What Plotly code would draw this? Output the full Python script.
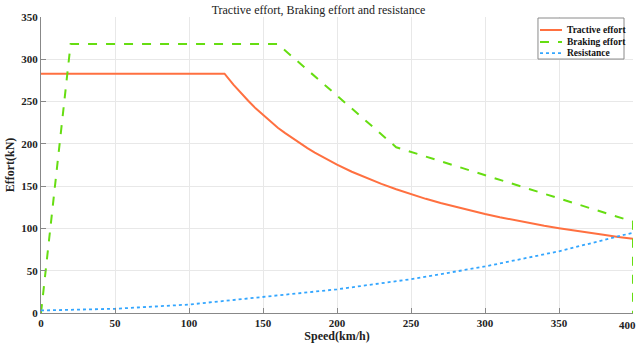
import plotly.graph_objects as go

# Tractive effort (kN) vs speed (km/h)
tr_speed = [0, 124, 130, 135, 140, 145, 150, 155, 160, 165, 170, 175, 180, 185, 190, 200, 210, 220, 230,
            240, 250, 260, 270, 280, 290, 300, 310, 320, 330, 340, 350, 360, 370, 380, 390, 400]
tr_force = [283, 283, 270, 260, 251, 242, 234, 226.5, 219, 212.7, 206.5, 200.6, 195, 189.7, 184.7, 175.5,
            167, 159.5, 152.6, 146.3, 140.4, 135, 130, 125.4, 121, 117, 113.2, 109.7, 106.4, 103.2, 100.3,
            97.5, 94.9, 92.4, 90, 87.8]

# Braking effort
br_speed = [0, 20, 160, 240, 400, 400]
br_force = [0, 318, 318, 196, 108, 0]

# Resistance
rs_speed = [0, 50, 100, 150, 200, 250, 300, 350, 400]
rs_force = [3, 5, 10, 19, 28, 40, 55, 73, 95]

series_names = ["Tractive effort", "Braking effort", "Resistance"]
series_colors = ["#ff7040", "#66dd11", "#33a6ff"]
series_dash = ["solid", "dash", "dot"]

title = "Tractive effort, Braking effort and resistance"
x_title = "Speed(km/h)"
y_title = "Effort(kN)"
x_ticks = [0, 50, 100, 150, 200, 250, 300, 350, 400]
y_ticks = [0, 50, 100, 150, 200, 250, 300, 350]

FONT = "Liberation Serif, Times New Roman, serif"

fig = go.Figure()
data = [(tr_speed, tr_force), (br_speed, br_force), (rs_speed, rs_force)]
for (xs, ys), nm, col, ds in zip(data, series_names, series_colors, series_dash):
    fig.add_trace(go.Scatter(x=xs, y=ys, mode="lines", name=nm, cliponaxis=False,
                             line=dict(color=col, width=2 if ds != "dot" else 1.8, dash=ds)))

# compact legend (box, line samples, labels) in plot-area paper coordinates
lg_x0, lg_x1, lg_y0, lg_y1 = 0.8395, 0.9848, 0.858, 0.9966
row_y = [0.956, 0.9155, 0.878]
fig.add_shape(type="rect", xref="paper", yref="paper", x0=lg_x0, x1=lg_x1, y0=lg_y0, y1=lg_y1,
              line=dict(color="#8a8a8a", width=1), fillcolor="white", layer="above")
for ry, nm, col, ds in zip(row_y, series_names, series_colors, series_dash):
    fig.add_shape(type="line", xref="paper", yref="paper", x0=0.8429, x1=0.8801, y0=ry, y1=ry,
                  line=dict(color=col, width=2 if ds != "dot" else 1.8, dash=ds), layer="above")
    fig.add_annotation(xref="paper", yref="paper", x=0.885, y=ry, text="<b>%s</b>" % nm,
                       showarrow=False, xanchor="left", yanchor="middle",
                       font=dict(family=FONT, size=9.5, color="#111"))

# the last x tick label sits at the very edge (drawn as annotation so it is not dropped)
fig.add_annotation(xref="x", yref="paper", x=x_ticks[-1], y=0, yshift=-4, xshift=-6,
                   text="<b>%d</b>" % x_ticks[-1],
                   showarrow=False, xanchor="center", yanchor="top",
                   font=dict(family=FONT, size=11, color="#222"))

fig.update_layout(
    width=637, height=348,
    margin=dict(l=41, r=4, t=17, b=35),
    paper_bgcolor="white", plot_bgcolor="white",
    title=dict(text=title, x=0.5, xanchor="center", y=0.985, yanchor="top",
               font=dict(family=FONT, size=12, color="#222")),
    font=dict(family=FONT, color="#222"),
    showlegend=False,
)
fig.update_xaxes(range=[0, 400], tickvals=x_ticks, ticks="inside", ticklen=5, automargin=False,
                 tickcolor="#888", showline=True, linecolor="#888", linewidth=1,
                 showgrid=True, gridcolor="#e8e8e8", zeroline=False,
                 tickfont=dict(family=FONT, size=11, color="#222", weight="bold"),
                 title=dict(text=x_title, standoff=2,
                            font=dict(family=FONT, size=12, color="#222", weight="bold")))
fig.update_yaxes(range=[0, 350], tickvals=y_ticks, ticks="inside", ticklen=5, automargin=False,
                 tickcolor="#888", showline=True, linecolor="#888", linewidth=1,
                 showgrid=True, gridcolor="#e8e8e8", zeroline=False,
                 tickfont=dict(family=FONT, size=11, color="#222", weight="bold"),
                 title=dict(text=y_title, standoff=4,
                            font=dict(family=FONT, size=12, color="#222", weight="bold")))

fig.write_html("out.html")
